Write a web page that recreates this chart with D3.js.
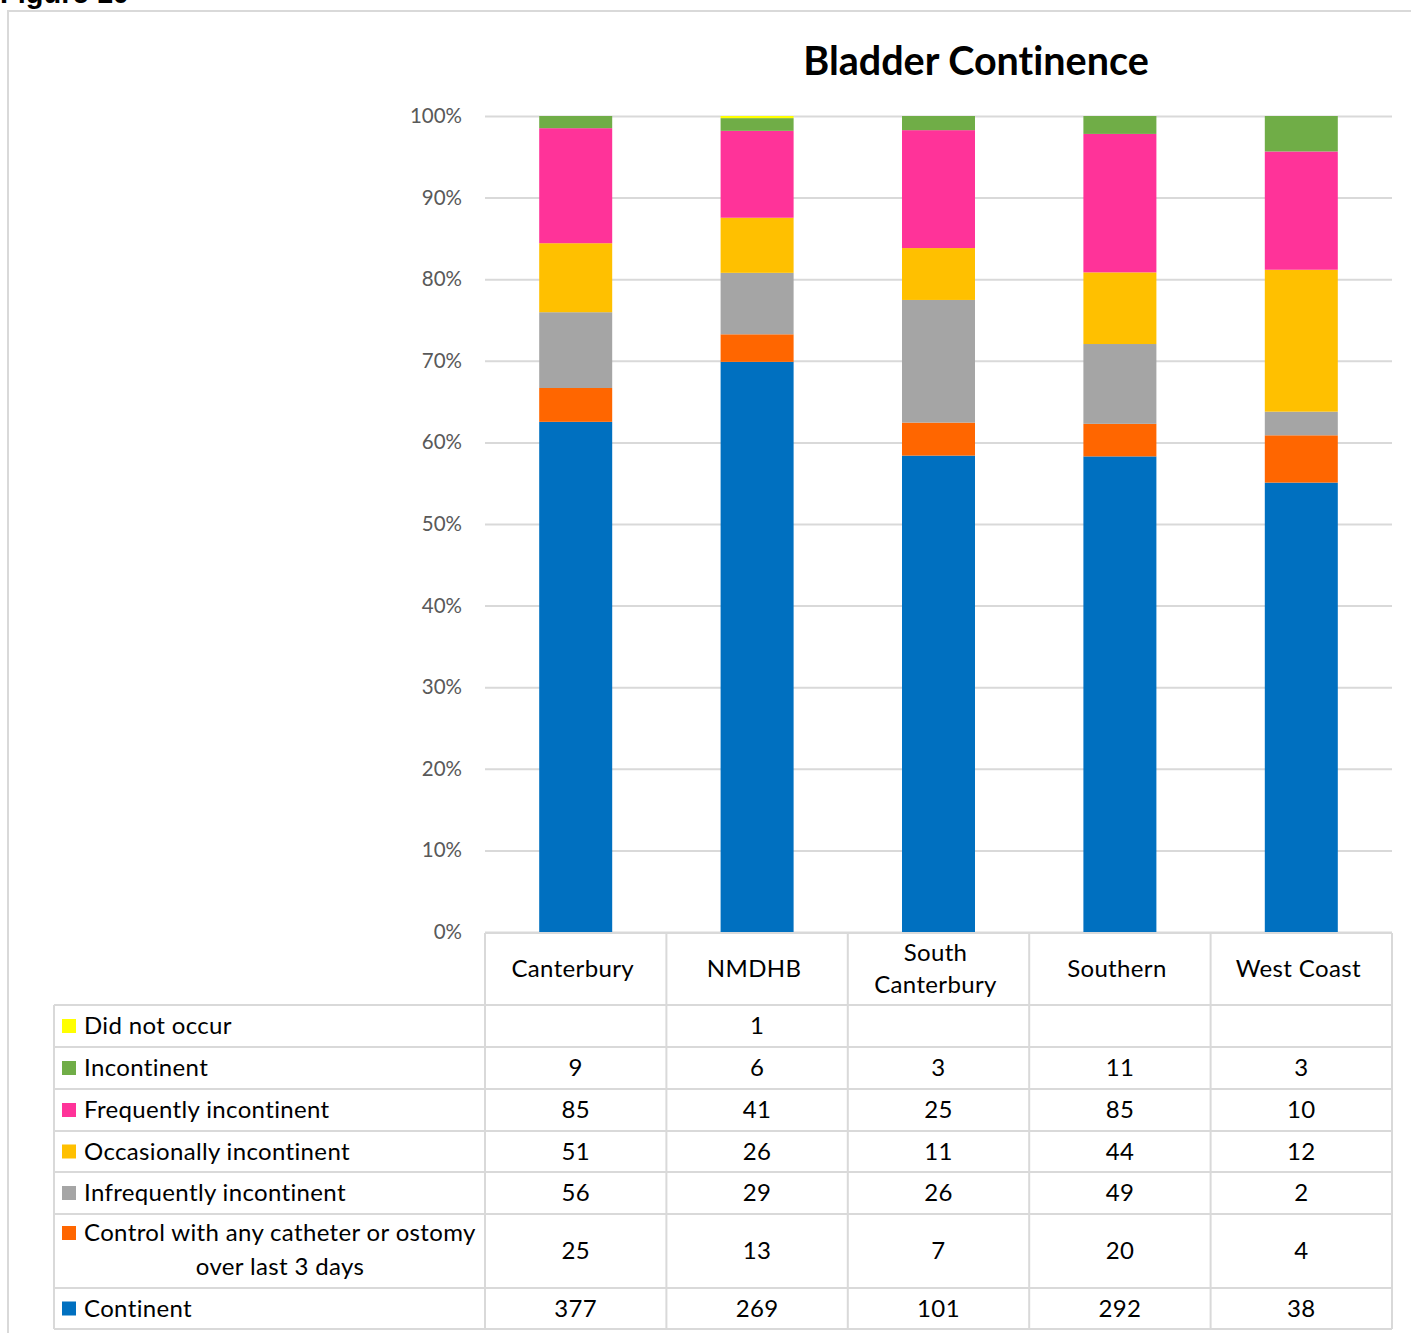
<!DOCTYPE html>
<html>
<head>
<meta charset="utf-8">
<script src="https://cdn.jsdelivr.net/npm/d3@7"></script>
<style>
  html, body { margin: 0; padding: 0; background: #fff; }
  svg { display: block; }
  svg text { font-variant-ligatures: none; font-feature-settings: "liga" 0; }
</style>
</head>
<body>
<svg id="chart" width="1411" height="1333"></svg>
<script>
// Bladder continence counts by DHB
const categories = ["Canterbury", "NMDHB", "South Canterbury", "Southern", "West Coast"];
const categoryLines = [["Canterbury"], ["NMDHB"], ["South", "Canterbury"], ["Southern"], ["West Coast"]];

// series listed from the top of each stack to the bottom (table order)
const seriesNames = [
  "Did not occur",
  "Incontinent",
  "Frequently incontinent",
  "Occasionally incontinent",
  "Infrequently incontinent",
  "Control with any catheter or ostomy over last 3 days",
  "Continent"
];
const seriesColors = ["#ffff00", "#70ad47", "#ff3399", "#ffc000", "#a5a5a5", "#ff6600", "#0070c0"];

const didNotOccur   = [null, 1, null, null, null];
const incontinent   = [9, 6, 3, 11, 3];
const frequently    = [85, 41, 25, 85, 10];
const occasionally  = [51, 26, 11, 44, 12];
const infrequently  = [56, 29, 26, 49, 2];
const catheter      = [25, 13, 7, 20, 4];
const continent     = [377, 269, 101, 292, 38];

const seriesValues = [didNotOccur, incontinent, frequently, occasionally, infrequently, catheter, continent];
const yTicks = [0, 0.1, 0.2, 0.3, 0.4, 0.5, 0.6, 0.7, 0.8, 0.9, 1.0];

const svg = d3.select("#chart");
const FONT = "Lato, Carlito, 'Open Sans', sans-serif";
const gridColor = "#d9d9d9";

// outer frame
svg.append("path")
  .attr("d", "M8,1333 L8,11 L1411,11")
  .attr("fill", "none").attr("stroke", gridColor).attr("stroke-width", 2);

// figure caption (runs off the top edge)
svg.append("text")
  .attr("x", 0).attr("y", 3)
  .attr("font-family", "'Liberation Sans', Arial, sans-serif")
  .attr("font-weight", "bold").attr("font-size", 29)
  .attr("fill", "#000").text("Figure 10");

// plot geometry
const plotLeft = 485, plotRight = 1392, plotTop = 116, plotBottom = 932;
const x = d3.scaleBand().domain(categories).range([plotLeft, plotRight]).paddingInner(0).paddingOuter(0);
const y = d3.scaleLinear().domain([0, 1]).range([plotBottom, plotTop]);
const barWidth = 73;

// title
svg.append("text")
  .attr("x", 976).attr("y", 75)
  .attr("text-anchor", "middle")
  .attr("font-family", FONT).attr("font-weight", "bold").attr("font-size", 39.5)
  .attr("fill", "#000").text("Bladder Continence");

// gridlines + y axis labels
const yAxis = d3.axisLeft(y).tickValues(yTicks)
  .tickFormat(d3.format(".0%"))
  .tickSize(-(plotRight - plotLeft)).tickPadding(23);
const gy = svg.append("g").attr("transform", `translate(${plotLeft},0)`).call(yAxis);
gy.select(".domain").remove();
gy.selectAll(".tick line").attr("stroke", gridColor).attr("stroke-width", 2);
gy.selectAll(".tick text")
  .attr("font-family", FONT).attr("font-size", 20.5).attr("fill", "#595959");

// stacked, normalised bars
const rows = categories.map((c, i) => {
  const r = { cat: c };
  seriesNames.forEach((s, k) => { r[s] = seriesValues[k][i] || 0; });
  return r;
});
const stackKeys = seriesNames.slice().reverse();
const stacked = d3.stack().keys(stackKeys).offset(d3.stackOffsetExpand)(rows);
const colorOf = d3.scaleOrdinal().domain(seriesNames).range(seriesColors);

svg.append("g").selectAll("g").data(stacked).join("g")
  .attr("fill", d => colorOf(d.key))
  .selectAll("rect").data(d => d).join("rect")
  .attr("x", d => x(d.data.cat) + x.bandwidth() / 2 - barWidth / 2)
  .attr("width", barWidth)
  .attr("y", d => y(d[1]))
  .attr("height", d => Math.max(0, y(d[0]) - y(d[1])));

// data table beneath the plot
const tableLeft = 54;
const headerTop = 933, headerBottom = 1005;
const rowEdges = [1005, 1047, 1089, 1131, 1172, 1214, 1288, 1329];
const tbl = svg.append("g");
const line = (x1, y1, x2, y2) => tbl.append("line")
  .attr("x1", x1).attr("y1", y1).attr("x2", x2).attr("y2", y2)
  .attr("stroke", gridColor).attr("stroke-width", 2);

// header cells
line(plotLeft, headerTop, plotRight, headerTop);
const colEdges = categories.map(c => x(c)).concat([plotRight]);
colEdges.forEach(cx => line(cx, headerTop, cx, rowEdges[rowEdges.length - 1]));
rowEdges.forEach(ry => line(tableLeft, ry, plotRight, ry));
line(tableLeft, rowEdges[0], tableLeft, rowEdges[rowEdges.length - 1]);

const textAttrs = sel => sel.attr("font-family", FONT).attr("font-size", 24)
  .attr("letter-spacing", 0.35).attr("fill", "#000");

categories.forEach((c, i) => {
  const lines = categoryLines[i];
  const cx = x(c) + x.bandwidth() / 2;
  const mid = (headerTop + headerBottom) / 2;
  const lh = 32;
  lines.forEach((t, j) => {
    tbl.append("text").call(textAttrs)
      .attr("x", cx - 3)
      .attr("y", mid + (j - (lines.length - 1) / 2) * lh)
      .attr("dy", "0.35em")
      .attr("text-anchor", "middle").text(t);
  });
});

// series rows
seriesNames.forEach((s, k) => {
  const top = rowEdges[k], bottom = rowEdges[k + 1];
  const mid = (top + bottom) / 2;
  const twoLine = s.startsWith("Control");
  const firstY = twoLine ? top + 19 : mid;
  tbl.append("rect")
    .attr("x", 62).attr("y", firstY - 7).attr("width", 14).attr("height", 14)
    .attr("fill", seriesColors[k]);
  if (twoLine) {
    tbl.append("text").call(textAttrs).attr("x", 84).attr("y", firstY).attr("dy", "0.35em")
      .text("Control with any catheter or ostomy");
    tbl.append("text").call(textAttrs).attr("x", 280).attr("y", firstY + 34).attr("dy", "0.35em")
      .attr("text-anchor", "middle").text("over last 3 days");
  } else {
    tbl.append("text").call(textAttrs).attr("x", 84).attr("y", mid).attr("dy", "0.35em").text(s);
  }
  seriesValues[k].forEach((v, i) => {
    if (v == null) return;
    tbl.append("text").call(textAttrs)
      .attr("x", x(categories[i]) + x.bandwidth() / 2)
      .attr("y", mid).attr("dy", "0.35em")
      .attr("text-anchor", "middle").text(v);
  });
});
</script>
</body>
</html>
